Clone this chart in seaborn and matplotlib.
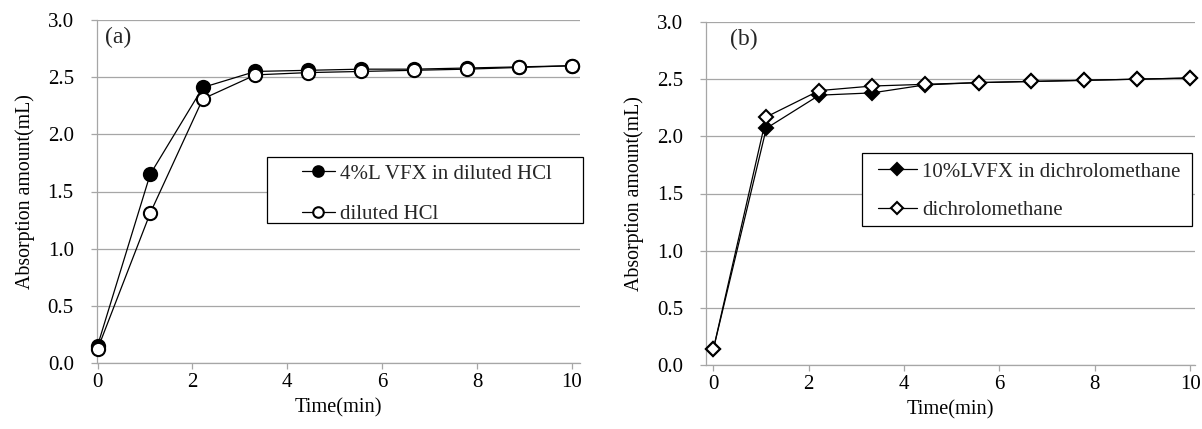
import matplotlib
matplotlib.use("Agg")
import matplotlib.pyplot as plt
from matplotlib.patches import Rectangle
import seaborn as sns
import pandas as pd

sns.set_theme(style="white")
plt.rcParams['font.family'] = ['Liberation Serif', 'DejaVu Serif']

time_min = [0, 1.11, 2.22, 3.33, 4.44, 5.56, 6.67, 7.78, 8.89, 10]

# panel (a)
a_labels = ["4%L VFX in diluted HCl", "diluted HCl"]
a_lvfx = [0.15, 1.65, 2.41, 2.55, 2.56, 2.57, 2.57, 2.58, 2.59, 2.60]
a_hcl = [0.12, 1.31, 2.31, 2.52, 2.54, 2.55, 2.56, 2.57, 2.585, 2.60]

# panel (b)
b_labels = ["10%LVFX in dichrolomethane", "dichrolomethane"]
b_lvfx = [0.14, 2.07, 2.36, 2.38, 2.45, 2.47, 2.48, 2.49, 2.50, 2.51]
b_dcm = [0.14, 2.17, 2.40, 2.44, 2.455, 2.47, 2.48, 2.49, 2.50, 2.51]

yticks = [0.0, 0.5, 1.0, 1.5, 2.0, 2.5, 3.0]
xticks = [0, 2, 4, 6, 8, 10]

W, H = 1202, 429
fig = plt.figure(figsize=(W / 100, H / 100), dpi=100)

def fx(px):
    return px / W

def fy(py):
    return 1 - py / H

def box(x0, y0, x1, y1):
    return [fx(x0), fy(y1), fx(x1) - fx(x0), fy(y0) - fy(y1)]

axA = fig.add_axes(box(96.7, 20, 579.5, 363))
axB = fig.add_axes(box(706, 22, 1195, 365))

GRID = '#a6a6a6'

def style_axis(ax, xlim):
    ax.set_ylim(0, 3.0)
    ax.set_xlim(*xlim)
    ax.set_yticks(yticks)
    ax.set_yticklabels([f"{v:.1f}" for v in yticks])
    ax.set_xticks(xticks)
    ax.grid(axis='y', color=GRID, linewidth=0.9)
    ax.grid(axis='x', visible=False)
    ax.set_axisbelow(True)
    for s in ['top', 'right']:
        ax.spines[s].set_visible(False)
    for s in ['left', 'bottom']:
        ax.spines[s].set_color(GRID)
        ax.spines[s].set_linewidth(0.9)
    ax.tick_params(axis='both', which='major', direction='out', length=4.5,
                   color=GRID, width=0.9, labelsize=15, labelcolor='black',
                   bottom=True, left=True)
    ax.tick_params(axis='y', pad=12)
    ax.tick_params(axis='x', pad=3)
    ax.set_xlabel("Time(min)", fontsize=14.7, color='black', labelpad=4)
    ax.set_ylabel("Absorption amount(mL)", fontsize=14.3, color='black', labelpad=9)

def draw(ax, y, label, marker, face, ms, z):
    df = pd.DataFrame({"t": time_min, "v": y})
    sns.lineplot(data=df, x="t", y="v", ax=ax, color='black', linewidth=0.9,
                 marker=marker, markersize=ms, markerfacecolor=face,
                 markeredgecolor='black', markeredgewidth=1.5, label=label,
                 zorder=z, clip_on=False)

draw(axA, a_lvfx, a_labels[0], 'o', 'black', 9.5, 3)
draw(axA, a_hcl, a_labels[1], 'o', 'white', 9.5, 4)
draw(axB, b_lvfx, b_labels[0], 'D', 'black', 7.5, 3)
draw(axB, b_dcm, b_labels[1], 'D', 'white', 7.5, 4)

style_axis(axA, (-0.017, 10.16))
style_axis(axB, (-0.155, 10.1))

fig.text(fx(105), fy(37), "(a)", fontsize=17, ha='left', va='center')
fig.text(fx(730), fy(39), "(b)", fontsize=17, ha='left', va='center')

legend_specs = [
    # ax, frame box (px), anchor of first handle (px), handlelength, labelspacing
    (axA, (267, 157, 583, 223), (302, 164), 1.58, 1.0),
    (axB, (862, 153, 1192, 226), (878, 162), 1.87, 0.92),
]
for ax, (bx0, by0, bx1, by1), (ax0, ay0), hl, ls in legend_specs:
    rect = Rectangle((fx(bx0), fy(by1)), fx(bx1) - fx(bx0), fy(by0) - fy(by1),
                     transform=fig.transFigure, facecolor='white',
                     edgecolor='black', linewidth=0.9, clip_on=False, zorder=4.5)
    ax.add_artist(rect)
    h, l = ax.get_legend_handles_labels()
    leg = ax.legend(h, l, loc='upper left', bbox_to_anchor=(fx(ax0), fy(ay0)),
                    bbox_transform=fig.transFigure, fontsize=15, frameon=False,
                    handlelength=hl, handletextpad=0.24, borderpad=0,
                    borderaxespad=0, labelspacing=ls, numpoints=1,
                    markerscale=0.8)
    leg.set_zorder(5)

fig.savefig("out.png", dpi=100)
